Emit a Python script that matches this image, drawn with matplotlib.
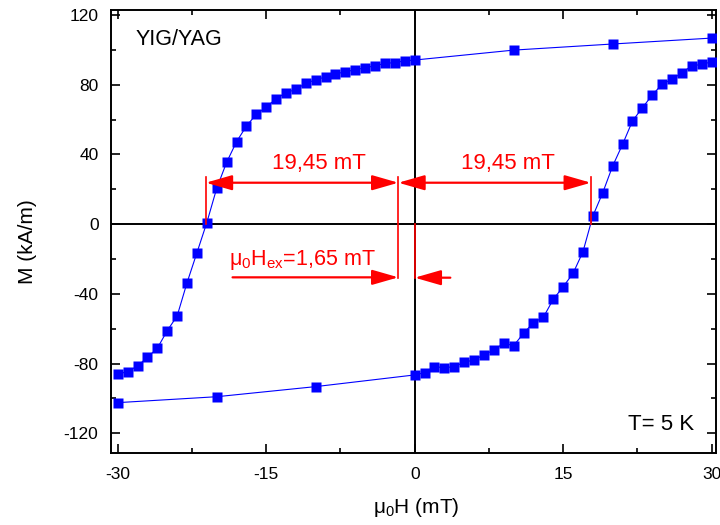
import matplotlib
matplotlib.use("Agg")
import matplotlib.pyplot as plt
from matplotlib.ticker import MultipleLocator

plt.rcParams['font.family'] = ['Liberation Sans', 'DejaVu Sans']
plt.rcParams['axes.unicode_minus'] = False

# descending branch (from +30 mT down to -30 mT)
h_down = [30, 20, 10, 0, -1, -2, -3, -4, -5, -6, -7, -8, -9, -10,
          -11, -12, -13, -14, -15, -16, -17, -18, -19, -20,
          -21, -22, -23, -24, -25, -26, -27, -28, -29, -30]
m_down = [106.8, 103.4, 99.9, 94.2, 93.8, 92.7, 92.3, 90.9, 89.8, 88.6,
          87.5, 86.2, 84.5, 82.9, 80.8, 77.4, 75.4, 72.0, 67.1, 63.1,
          56.3, 47.3, 35.5, 20.6, 0.9, -16.4, -33.6, -52.7, -61.1, -71.2,
          -76.4, -81.4, -84.6, -86.0]

# ascending branch (from -30 mT up to +30 mT)
h_up = [-30, -20, -10, 0, 1, 2, 3, 4, 5, 6, 7, 8, 9, 10,
        11, 12, 13, 14, 15, 16, 17, 18, 19, 20,
        21, 22, 23, 24, 25, 26, 27, 28, 29, 30]
m_up = [-102.4, -99.0, -93.2, -86.5, -85.2, -81.8, -82.3, -81.8, -79.2, -77.9,
        -75.0, -72.2, -68.3, -69.7, -62.6, -56.5, -53.4, -43.1, -35.9, -28.2,
        -15.8, 4.7, 18.1, 33.4, 45.8, 59.2, 66.8, 74.1, 80.4, 83.1,
        86.9, 90.9, 91.7, 93.2]

# coercive fields and exchange bias shift
hc_left = -21.1
hc_right = 17.8
h_ex = -1.65

fig = plt.figure(figsize=(7.2, 5.25), dpi=100)
ax = fig.add_axes([111/720, 1-453/525, (716-111)/720, (453-9.5)/525])

ax.axhline(0, color='k', lw=1.4, zorder=1)
ax.axvline(0, color='k', lw=1.4, zorder=1)

ax.plot(h_down, m_down, '-s', color='#0000ff', lw=0.8, ms=7, mec='none', zorder=3)
ax.plot(h_up, m_up, '-s', color='#0000ff', lw=0.8, ms=7, mec='none', zorder=3)

red = '#ff0000'
ax.plot([hc_left, hc_left], [0, 27.3], color=red, lw=1.2, zorder=4)
ax.plot([h_ex, h_ex], [-30.9, 27.3], color=red, lw=1.2, zorder=4)
ax.plot([hc_right, hc_right], [0, 27.3], color=red, lw=1.2, zorder=4)
ax.plot([0, 0], [0, -30.9], color=red, lw=1.2, zorder=4)

arr2 = dict(arrowstyle='<|-|>,head_length=0.8,head_width=0.23', color=red,
            lw=1.6, shrinkA=0, shrinkB=0, mutation_scale=20)
arr1 = dict(arrowstyle='-|>,head_length=0.8,head_width=0.23', color=red,
            lw=1.6, shrinkA=0, shrinkB=0, mutation_scale=20)
ax.annotate('', xy=(h_ex, 23.8), xytext=(hc_left, 23.8), arrowprops=arr2, zorder=5)
ax.annotate('', xy=(hc_right, 23.8), xytext=(h_ex, 23.8), arrowprops=arr2, zorder=5)
ax.annotate('', xy=(h_ex, -30.5), xytext=(-18.4, -30.5), arrowprops=arr1, zorder=5)
ax.annotate('', xy=(0, -30.7), xytext=(3.6, -30.7), arrowprops=arr1, zorder=5)

ax.text(-9.7, 35, '19,45 mT', color=red, fontsize=16, ha='center', va='center')
ax.text(9.4, 35, '19,45 mT', color=red, fontsize=16, ha='center', va='center')
ax.text(-18.8, -23.4, 'μ$\\mathregular{_0}$H$\\mathregular{_{ex}}$=1,65 mT',
        color=red, fontsize=15.5, ha='left', va='baseline')

ax.text(-28.2, 105.7, 'YIG/YAG', fontsize=15.5, ha='left', va='center')
ax.text(28.2, -115.2, 'T= 5 K', fontsize=16, ha='right', va='center')

ax.set_xlim(-30.68, 30.44)
ax.set_ylim(-131.3, 123.2)
ax.xaxis.set_major_locator(MultipleLocator(15))
ax.xaxis.set_minor_locator(MultipleLocator(7.5))
ax.yaxis.set_major_locator(MultipleLocator(40))
ax.yaxis.set_minor_locator(MultipleLocator(20))
ax.tick_params(which='both', direction='in', top=True, right=True, labelsize=12.5, width=1.2)
ax.tick_params(which='major', length=6.5)
ax.tick_params(axis='x', which='major', pad=10)
ax.tick_params(axis='y', which='major', pad=9)
ax.tick_params(which='minor', length=3.5)
for s in ax.spines.values():
    s.set_linewidth(1.4)

ax.set_xlabel('μ$\\mathregular{_0}$H (mT)', fontsize=15)
ax.set_ylabel('M (kA/m)', fontsize=15)
ax.xaxis.set_label_coords(0.504, -0.097)
ax.yaxis.set_label_coords(-0.122, 0.476)

fig.savefig('out.png', dpi=100)
